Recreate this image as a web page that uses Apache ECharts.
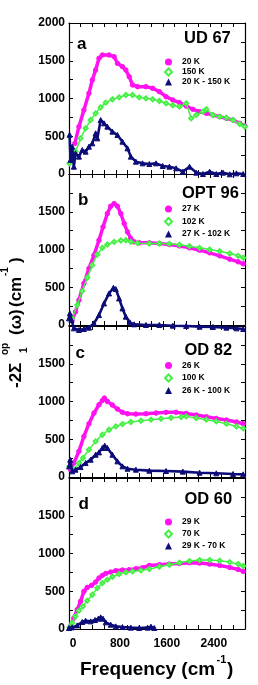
<!DOCTYPE html>
<html><head><meta charset="utf-8">
<script src="https://cdn.jsdelivr.net/npm/echarts@6/dist/echarts.min.js"></script>
<style>html,body{margin:0;padding:0;background:#fff}#c{width:258px;height:685px}</style>
</head><body><div id="c"></div>
<script>
// ---- tick / label values ----
const xLabelValues = [0, 800, 1600, 2400];
const xTickValues = [0,200,400,600,800,1000,1200,1400,1600,1800,2000,2200,2400,2600,2800,3000];
const yLabelValuesTop = [0, 500, 1000, 1500, 2000];
const yLabelValues = [0, 500, 1000, 1500];
const yTickValues = [0,250,500,750,1000,1250,1500,1750,2000];
const panelTitles = ['UD 67', 'OPT 96', 'OD 82', 'OD 60'];
const panelLetters = ['a', 'b', 'c', 'd'];
const namesA = ['20 K', '150 K', '20 K - 150 K'];
const namesB = ['27 K', '102 K', '27 K - 102 K'];
const namesC = ['26 K', '100 K', '26 K - 100 K'];
const namesD = ['29 K', '70 K', '29 K - 70 K'];

// ---- panel a : UD 67 ----
const a_low = [[100,406],[169,627],[254,848],[340,1068],[397,1245],[454,1377],[511,1532],[569,1576],[683,1576],[769,1554],[826,1466],[911,1422],[969,1377],[1026,1289],[1083,1179],[1169,1157],[1311,1157],[1426,1135],[1540,1091],[1654,1024],[1769,980],[1883,945],[1997,900],[2111,857],[2226,826],[2340,804],[2454,781],[2569,759],[2683,737],[2797,715],[2911,671],[2997,636]];
const a_high = [[9,141],[54,230],[111,296],[197,472],[283,605],[369,715],[454,804],[540,883],[626,945],[740,989],[854,1015],[969,1046],[1083,1046],[1197,1015],[1311,1002],[1426,989],[1540,967],[1654,936],[1769,910],[1883,892],[1997,936],[2083,737],[2169,781],[2283,826],[2340,857],[2454,781],[2569,759],[2683,746],[2797,715],[2911,662],[2997,627]];
const a_diff = [[10,520],[26,185],[54,362],[83,97],[111,274],[169,230],[226,318],[283,296],[340,362],[397,406],[454,539],[483,472],[540,715],[597,671],[654,627],[740,561],[826,517],[911,428],[997,340],[1054,230],[1140,163],[1254,141],[1369,132],[1483,141],[1597,106],[1711,97],[1826,75],[1940,31],[2054,97],[2169,18],[2283,0],[2397,31],[2511,0],[2626,18],[2740,-4],[2854,9],[2969,0]];

// ---- panel b : OPT 96 ----
const b_low = [[54,66],[111,176],[169,330],[254,551],[340,749],[426,925],[511,1123],[580,1299],[654,1476],[711,1573],[769,1608],[826,1573],[883,1476],[940,1344],[997,1233],[1054,1145],[1111,1101],[1197,1088],[1369,1088],[1540,1079],[1711,1066],[1883,1048],[2054,1022],[2226,991],[2397,956],[2569,916],[2740,872],[2883,837],[2969,811]];
const b_high = [[54,88],[140,264],[226,449],[311,626],[397,793],[483,934],[569,1022],[654,1066],[769,1101],[883,1119],[969,1123],[1054,1101],[1169,1084],[1369,1079],[1540,1079],[1711,1075],[1883,1062],[2054,1044],[2226,1022],[2397,1000],[2569,978],[2740,947],[2883,916],[2969,890]];
const b_diff = [[0,88],[14,154],[43,66],[83,-44],[169,-66],[254,-53],[340,-35],[426,22],[511,132],[597,286],[683,418],[757,493],[797,476],[854,352],[911,220],[969,110],[1037,35],[1111,9],[1311,0],[1540,0],[1769,-9],[1997,-13],[2226,-22],[2454,-26],[2683,-35],[2854,-44],[2969,-53]];

// ---- panel c : OD 82 ----
const c_low = [[26,97],[83,185],[169,340],[254,538],[340,706],[426,847],[511,957],[569,1014],[603,1045],[654,1001],[740,953],[826,900],[911,856],[997,838],[1140,833],[1311,838],[1483,847],[1654,856],[1826,856],[1997,842],[2169,820],[2340,798],[2511,776],[2683,754],[2854,728],[2969,706]];
const c_high = [[9,141],[83,97],[169,185],[237,251],[340,362],[454,472],[569,560],[683,626],[797,670],[911,701],[1054,728],[1226,745],[1397,759],[1569,772],[1740,785],[1911,794],[1997,803],[2169,781],[2340,759],[2511,736],[2683,706],[2854,670],[2969,644]];
const c_diff = [[0,141],[20,229],[54,75],[111,97],[197,132],[283,185],[369,229],[454,295],[511,326],[569,384],[609,415],[654,384],[740,295],[826,207],[911,141],[997,110],[1140,97],[1369,84],[1654,79],[1940,71],[2226,57],[2511,49],[2797,40],[2969,35]];

// ---- panel d : OD 60 ----
const d_low = [[26,35],[83,146],[140,256],[197,366],[254,498],[311,551],[386,578],[454,622],[511,675],[569,710],[626,736],[711,754],[797,772],[911,781],[1026,785],[1140,798],[1254,811],[1369,842],[1540,851],[1711,860],[1883,869],[2054,878],[2226,873],[2397,860],[2569,842],[2740,816],[2883,789],[2969,763]];
const d_high = [[9,22],[54,79],[111,168],[169,243],[237,300],[311,375],[397,454],[483,542],[569,609],[654,653],[740,692],[854,728],[969,750],[1083,763],[1226,776],[1369,794],[1540,825],[1711,851],[1883,878],[2054,900],[2226,913],[2397,913],[2569,904],[2740,886],[2883,860],[2969,834]];
const d_diff = [[0,13],[54,22],[140,48],[226,93],[283,110],[369,101],[443,119],[500,137],[540,154],[580,137],[626,88],[711,57],[797,35],[911,26],[1054,18],[1197,13],[1340,18],[1397,31],[1454,13]];

const panels = [
  {names: namesA, data: [a_low, a_high, a_diff]},
  {names: namesB, data: [b_low, b_high, b_diff]},
  {names: namesC, data: [c_low, c_high, c_diff]},
  {names: namesD, data: [d_low, d_high, d_diff]}
];

// ---- layout (styling, not data) ----
const FONT = '"Liberation Sans", Arial, sans-serif';
const gridTops = [23, 174, 326, 478];
const gridH = 151, gridL = 69, gridW = 176;
const legendTops = [57.5, 204.5, 361, 517.5];
const legendGaps = [1, 3.5, 3.5, 3];
const titleTops = [30, 185, 342, 491];
const titleLefts = [184, 182, 184.5, 184.5];
const letterTops = [35.5, 191.5, 344.5, 495.5];
const letterLefts = [77, 78, 75.5, 78.5];
const PINK = '#ff12f0', GREEN = '#44f044', NAVY = '#0c0c78';
const plain = v => String(v);

const grid = [], xAxis = [], yAxis = [], series = [], legend = [], title = [];
panels.forEach((p, i) => {
  grid.push({left: gridL, top: gridTops[i], width: gridW, height: gridH});
  const tick = {show: true, inside: true, length: 4, lineStyle: {color: '#000', width: 1}};
  const line = {show: true, onZero: false, lineStyle: {color: '#000', width: 1.2}};
  xAxis.push({type: 'value', gridIndex: i, min: 0, max: 3000, position: 'bottom',
    axisLine: line, axisTick: Object.assign({customValues: xTickValues}, tick),
    splitLine: {show: false},
    axisLabel: {show: i === 3, customValues: xLabelValues, formatter: plain, margin: 9, padding: [0, 0, 0, 8],
      fontFamily: FONT, fontWeight: 'bold', fontSize: 12, color: '#000'}});
  xAxis.push({type: 'value', gridIndex: i, min: 0, max: 3000, position: 'top',
    axisLine: line, axisTick: Object.assign({customValues: xTickValues}, tick),
    splitLine: {show: false}, axisLabel: {show: false}});
  yAxis.push({type: 'value', gridIndex: i, min: 0, max: 2000, position: 'left',
    axisLine: line, axisTick: Object.assign({customValues: yTickValues}, tick),
    splitLine: {show: false},
    axisLabel: {customValues: i === 0 ? yLabelValuesTop : yLabelValues, formatter: plain, margin: 4,
      fontFamily: FONT, fontWeight: 'bold', fontSize: 12, color: '#000'}});
  yAxis.push({type: 'value', gridIndex: i, min: 0, max: 2000, position: 'right',
    axisLine: line, axisTick: Object.assign({customValues: yTickValues}, tick),
    splitLine: {show: false}, axisLabel: {show: false}});

  const styles = [
    {color: PINK, symbol: 'circle', size: 4.5, lw: 3.5},
    {color: GREEN, symbol: 'emptyDiamond', size: 4, lw: 1.5},
    {color: NAVY, symbol: 'triangle', size: 5, lw: 2.6}
  ];
  p.data.forEach((d, k) => {
    const s = styles[k];
    series.push({type: 'line', name: p.names[k], xAxisIndex: 2 * i, yAxisIndex: 2 * i,
      data: d, clip: false, animation: false, smooth: false,
      symbol: s.symbol, symbolSize: s.size, showSymbol: true, showAllSymbol: true,
      itemStyle: {color: s.color, borderColor: s.color},
      lineStyle: {color: s.color, width: s.lw}, z: 3 + k});
  });
  legend.push({orient: 'vertical', left: 164, top: legendTops[i], padding: 0,
    itemWidth: 7, itemHeight: 7, itemGap: legendGaps[i], selectedMode: false,
    data: [{name: p.names[0], icon: 'circle'}, {name: p.names[1], icon: 'emptyDiamond'}, {name: p.names[2], icon: 'triangle'}],
    textStyle: {fontFamily: FONT, fontWeight: 'bold', fontSize: 8.5, lineHeight: 8, color: '#000', padding: [0, 0, 0, 5]}});
  title.push({text: panelTitles[i], left: titleLefts[i], top: titleTops[i], padding: 0,
    textStyle: {fontFamily: FONT, fontWeight: 'bold', fontSize: 16.5, lineHeight: 16, color: '#000'}});
  title.push({text: panelLetters[i], left: letterLefts[i], top: letterTops[i], padding: 0,
    textStyle: {fontFamily: FONT, fontWeight: 'bold', fontSize: 17, lineHeight: 17, color: '#000'}});
});

function txt(text, x, y, size, align) {
  return {type: 'text', x: x, y: y, silent: true,
    style: {text: text, font: 'bold ' + size + 'px ' + FONT, fill: '#000',
      align: align || 'left', verticalAlign: 'middle', textAlign: align || 'left', textVerticalAlign: 'middle'}};
}
const graphic = [
  {type: 'group', x: 0, y: 388, rotation: Math.PI / 2, children: [
    txt('-2\u03A3', 0, 16, 17),
    txt('op', 33, 5.5, 10),
    txt('1', 35, 24.5, 10),
    txt('(\u03C9)', 53, 16, 17),
    txt('(cm', 81, 16, 17),
    txt('-1', 112, 5.5, 10),
    txt(')', 125, 16, 17)
  ]},
  txt('Frequency (cm', 80, 669.5, 19),
  txt('-1', 216.5, 660, 11),
  txt(')', 227, 669.5, 19)
];

const chart = echarts.init(document.getElementById('c'), null, {renderer: 'canvas'});
chart.setOption({backgroundColor: '#fff', animation: false, grid, xAxis, yAxis, series, legend, title, graphic});
</script></body></html>
